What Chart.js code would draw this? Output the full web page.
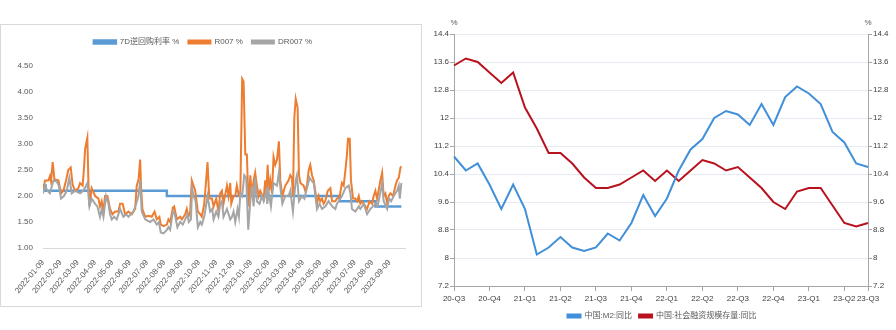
<!DOCTYPE html>
<html>
<head>
<meta charset="utf-8">
<script src="https://cdn.jsdelivr.net/npm/chart.js@4.4.0/dist/chart.umd.min.js"></script>
<style>
  body { margin: 0; background: #fff; width: 896px; height: 330px; position: relative; overflow: hidden; }
  #leftBox { position: absolute; left: 0; top: 24px; width: 422px; height: 283px; border: 1px solid #d9d9d9; box-sizing: border-box; }
  #leftChart { position: absolute; left: 0; top: 0; }
  #rightChart { position: absolute; left: 428px; top: 0; }
</style>
</head>
<body>
<div id="leftBox"><canvas id="leftChart" width="420" height="281"></canvas></div>
<canvas id="rightChart" width="468" height="330"></canvas>
<script>
// left chart: x is months after 2022-01-09
const leftTickLabels = ['2022-01-09','2022-02-09','2022-03-09','2022-04-09','2022-05-09','2022-06-09','2022-07-09',
  '2022-08-09','2022-09-09','2022-10-09','2022-11-09','2022-12-09','2023-01-09','2023-02-09','2023-03-09',
  '2023-04-09','2023-05-09','2023-06-09','2023-07-09','2023-08-09','2023-09-09'];

const policyX = [0, 0.15, 7.15, 17.13, 19.2, 20.69];
const policyRate = [2.20, 2.10, 2.00, 1.90, 1.80, 1.80];

const r007X = [0,0.12,0.31,0.40,0.46,0.56,0.66,0.89,1.04,1.18,1.33,1.46,1.60,1.71,1.85,2.04,2.14,2.29,2.37,2.43,
  2.56,2.62,2.68,2.81,3.01,3.20,3.29,3.39,3.49,3.58,3.72,3.87,4.01,4.16,4.35,4.45,4.60,4.74,4.93,5.13,
  5.22,5.32,5.41,5.51,5.61,5.66,5.74,5.90,6.09,6.28,6.44,6.57,6.72,6.80,6.96,7.15,7.24,7.34,7.50,7.57,
  7.73,7.92,8.02,8.21,8.30,8.40,8.50,8.59,8.69,8.79,8.94,9.08,9.17,9.31,9.50,9.60,9.75,9.85,10.00,10.13,
  10.23,10.33,10.42,10.62,10.71,10.81,10.87,11.00,11.10,11.19,11.31,11.39,11.50,11.58,11.68,11.77,11.87,11.97,12.06,12.16,
  12.25,12.35,12.45,12.54,12.74,12.83,12.89,12.97,13.04,13.12,13.22,13.31,13.41,13.51,13.62,13.70,13.82,13.99,14.18,14.28,
  14.37,14.43,14.51,14.59,14.70,14.78,14.86,15.05,15.14,15.24,15.34,15.43,15.53,15.63,15.72,15.82,15.92,16.01,16.11,16.20,
  16.30,16.44,16.59,16.69,16.88,16.97,17.13,17.26,17.36,17.46,17.55,17.61,17.71,17.78,17.90,18.03,18.13,18.23,18.32,18.42,
  18.52,18.71,18.86,19.00,19.09,19.19,19.29,19.48,19.58,19.67,19.77,19.87,19.96,20.06,20.21,20.35,20.44,20.54,20.64,20.69];
const r007 = [2.10,2.30,2.30,2.38,2.28,2.65,2.32,2.30,2.05,2.10,2.30,2.50,2.55,2.22,2.10,2.15,2.25,2.20,2.55,2.90,
  3.12,2.30,1.80,2.15,2.00,1.95,1.80,1.90,1.70,2.00,2.00,1.75,1.65,1.70,1.70,1.85,1.85,1.65,1.70,1.65,
  1.70,1.75,2.20,2.30,2.70,2.20,1.75,1.60,1.62,1.60,1.70,1.55,1.60,1.45,1.42,1.45,1.55,1.50,1.78,1.80,
  1.55,1.60,1.55,1.65,1.75,1.60,1.70,2.30,2.20,2.10,1.70,1.65,1.60,1.85,2.65,1.95,1.95,1.80,1.95,1.70,
  2.05,2.10,1.85,2.20,2.00,2.25,1.85,2.00,2.00,2.20,2.00,2.00,4.25,4.20,2.80,2.80,1.80,2.40,2.00,2.30,
  2.45,2.20,2.00,2.10,1.95,2.30,2.00,2.60,2.10,2.30,2.05,2.75,2.60,2.70,3.05,2.30,2.00,2.20,2.30,2.40,
  2.35,2.00,3.50,3.87,3.70,2.40,2.25,2.20,2.10,2.20,2.50,2.60,2.40,2.30,2.10,1.85,2.00,1.90,1.95,1.85,
  1.90,2.10,2.15,1.90,1.90,1.95,2.00,2.25,2.20,2.50,2.80,3.10,3.10,2.30,1.95,1.95,1.90,2.00,1.85,1.90,
  1.85,1.75,1.90,1.85,2.00,2.10,1.95,2.30,2.45,2.00,2.05,1.85,2.00,2.05,2.00,2.20,2.30,2.35,2.55,2.57];

const dr007X = [0,0.12,0.25,0.40,0.60,0.79,0.91,1.04,1.21,1.37,1.52,1.66,1.85,2.14,2.33,2.49,2.56,2.68,2.81,3.01,
  3.14,3.29,3.39,3.49,3.64,3.78,3.87,3.97,4.10,4.26,4.45,4.64,4.80,4.93,5.22,5.38,5.51,5.61,5.70,5.90,
  6.18,6.38,6.57,6.69,6.80,6.96,7.15,7.24,7.34,7.50,7.61,7.76,7.92,8.07,8.21,8.34,8.42,8.54,8.61,8.69,
  8.81,8.94,9.08,9.17,9.31,9.50,9.65,9.77,9.85,10.00,10.13,10.23,10.33,10.42,10.62,10.81,10.91,11.00,11.10,11.23,
  11.31,11.39,11.50,11.62,11.73,11.85,11.97,12.06,12.16,12.25,12.35,12.50,12.64,12.74,12.89,12.95,13.02,13.16,13.31,13.51,
  13.62,13.74,13.82,13.99,14.18,14.28,14.43,14.59,14.66,14.78,14.95,15.09,15.24,15.39,15.49,15.63,15.82,15.97,16.11,16.30,
  16.49,16.69,16.88,16.97,17.26,17.46,17.65,17.75,17.84,18.03,18.23,18.32,18.52,18.71,18.90,19.05,19.19,19.32,19.58,19.67,
  19.87,19.98,20.10,20.25,20.44,20.54,20.60,20.69];
const dr007 = [2.05,2.20,2.10,2.05,2.30,2.28,2.20,1.95,2.00,2.10,2.35,2.05,2.10,2.05,2.10,2.20,2.25,1.80,1.95,1.85,
  1.80,1.60,1.75,1.60,2.00,1.85,1.65,1.55,1.60,1.55,1.75,1.60,1.65,1.60,1.70,1.85,2.00,2.30,1.70,1.55,
  1.50,1.55,1.45,1.50,1.30,1.28,1.35,1.40,1.35,1.70,1.65,1.40,1.50,1.45,1.55,1.65,1.50,1.55,2.15,2.00,
  1.90,1.40,1.50,1.45,1.60,2.00,1.70,1.75,1.55,1.70,1.60,1.85,1.90,1.60,1.75,1.55,1.60,1.70,1.50,1.75,
  1.60,2.05,2.00,2.40,2.35,1.35,1.90,2.20,1.80,2.35,1.90,1.85,2.00,1.90,2.10,1.85,2.10,1.80,2.25,2.20,
  2.45,2.05,1.85,2.00,2.00,2.10,1.70,2.30,2.40,1.90,2.00,1.95,2.15,2.35,2.30,2.25,1.75,1.85,1.75,1.80,
  1.90,1.80,1.75,1.85,2.00,2.15,2.20,2.05,1.75,1.70,1.80,1.75,1.85,1.65,1.75,1.80,1.85,1.80,2.25,1.90,
  1.75,1.95,1.90,2.00,2.10,2.20,1.95,2.25];

// right chart: monthly
const months = ['2020-09','2020-10','2020-11','2020-12','2021-01','2021-02','2021-03','2021-04','2021-05','2021-06',
  '2021-07','2021-08','2021-09','2021-10','2021-11','2021-12','2022-01','2022-02','2022-03','2022-04','2022-05',
  '2022-06','2022-07','2022-08','2022-09','2022-10','2022-11','2022-12','2023-01','2023-02','2023-03','2023-04',
  '2023-05','2023-06','2023-07','2023-08'];
const m2 = [10.9,10.5,10.7,10.1,9.4,10.1,9.4,8.1,8.3,8.6,8.3,8.2,8.3,8.7,8.5,9.0,9.8,9.2,9.7,10.5,11.1,
  11.4,12.0,12.2,12.1,11.8,12.4,11.8,12.6,12.9,12.7,12.4,11.6,11.3,10.7,10.6];
const tsf = [13.5,13.7,13.6,13.3,13.0,13.3,12.3,11.7,11.0,11.0,10.7,10.3,10.0,10.0,10.1,10.3,10.5,10.2,10.5,10.2,10.5,
  10.8,10.7,10.5,10.6,10.3,10.0,9.6,9.4,9.9,10.0,10.0,9.5,9.0,8.9,9.0];

const FONT = '"Liberation Sans", "Noto Sans CJK SC", sans-serif';
Chart.defaults.font.family = FONT;
Chart.defaults.font.size = 8;
Chart.defaults.color = '#595959';
Chart.defaults.animation = false;

function pts(xs, ys) {
  return xs.map((x, i) => ({ x: x, y: ys[i] }));
}

function qLabel(i) {
  const m = months[i];
  if (!m) return '';
  const yy = m.slice(2, 4);
  const mo = Number(m.slice(5, 7));
  if (i === months.length - 1) return yy + '-Q' + Math.ceil(mo / 3);
  return mo % 3 === 0 ? yy + '-Q' + (mo / 3) : '';
}

const fmtRight = v => String(Number(v.toFixed(1)));

// gives the legend some extra room below it
const legendGap = {
  id: 'legendGap',
  beforeInit(chart) {
    const fit = chart.legend.fit;
    chart.legend.fit = function() {
      fit.bind(chart.legend)();
      this.height += 10;
    };
  }
};

new Chart(document.getElementById('leftChart'), {
  type: 'line',
  data: {
    datasets: [
      { label: '7D逆回购利率 %', data: pts(policyX, policyRate), borderColor: '#5b9bd5', backgroundColor: '#5b9bd5',
        borderWidth: 2.5, stepped: 'before', pointRadius: 0, order: 3 },
      { label: 'R007 %', data: pts(r007X, r007), borderColor: '#ed7d31', backgroundColor: '#ed7d31',
        borderWidth: 2, pointRadius: 0, order: 2 },
      { label: 'DR007 %', data: pts(dr007X, dr007), borderColor: '#a5a5a5', backgroundColor: '#a5a5a5',
        borderWidth: 2, pointRadius: 0, order: 1 }
    ]
  },
  options: {
    responsive: false,
    devicePixelRatio: 1,
    layout: { padding: { left: 0, right: 16, top: 4, bottom: 0 } },
    plugins: {
      legend: {
        position: 'top',
        labels: { boxWidth: 22, boxHeight: 3, padding: 9, color: '#595959',
          sort: (a, b) => a.datasetIndex - b.datasetIndex }
      },
      tooltip: { enabled: false }
    },
    scales: {
      x: {
        type: 'linear', min: 0, max: 20.9,
        grid: { display: false },
        border: { display: true, color: '#d9d9d9' },
        ticks: { stepSize: 1, includeBounds: false, autoSkip: false, maxTicksLimit: 30,
          minRotation: 50, maxRotation: 50, padding: 2, color: '#595959',
          callback: v => leftTickLabels[v] ?? '' },
        afterFit: s => { s.height = 58; }
      },
      y: {
        min: 1, max: 4.5,
        grid: { display: false, drawTicks: false },
        border: { display: false },
        ticks: { stepSize: 0.5, padding: 10, color: '#595959', callback: v => v.toFixed(2) },
        afterFit: s => { s.width = 42; }
      }
    }
  },
  plugins: [legendGap]
});

const percentSign = {
  id: 'percentSign',
  afterDraw(chart) {
    const ctx = chart.ctx;
    ctx.save();
    ctx.font = '8px ' + FONT;
    ctx.fillStyle = '#595959';
    ctx.textAlign = 'center';
    ctx.fillText('%', chart.scales.y.right, 23);
    ctx.fillText('%', chart.scales.y1.left, 23);
    ctx.restore();
  }
};

new Chart(document.getElementById('rightChart'), {
  type: 'line',
  data: {
    labels: months,
    datasets: [
      { label: '中国:M2:同比', data: m2, borderColor: '#418fd8', backgroundColor: '#418fd8',
        borderWidth: 2, pointRadius: 0, yAxisID: 'y' },
      { label: '中国:社会融资规模存量:同比', data: tsf, borderColor: '#b8121e', backgroundColor: '#b8121e',
        borderWidth: 2, pointRadius: 0, yAxisID: 'y1' }
    ]
  },
  options: {
    responsive: false,
    devicePixelRatio: 1,
    layout: { padding: { left: 0, right: 0, top: 34, bottom: 0 } },
    plugins: {
      legend: {
        position: 'bottom',
        labels: { boxWidth: 13, boxHeight: 3, padding: 7, color: '#595959' }
      },
      tooltip: { enabled: false }
    },
    scales: {
      x: {
        offset: false,
        grid: { drawOnChartArea: false, tickLength: 5,
          tickColor: c => qLabel(c.index) ? '#a6a6a6' : 'rgba(0,0,0,0)' },
        border: { color: '#a6a6a6' },
        ticks: { autoSkip: false, maxRotation: 0, padding: 3, color: '#404040',
          callback: (v, i) => qLabel(i) },
        afterFit: s => { s.height = 19; }
      },
      y: {
        position: 'left', min: 7.2, max: 14.4,
        grid: { color: '#e6ebf3', tickLength: 4, tickColor: '#a6a6a6' },
        border: { color: '#a6a6a6' },
        ticks: { stepSize: 0.8, padding: 1, color: '#404040', callback: fmtRight },
        afterFit: s => { s.width = 26; }
      },
      y1: {
        position: 'right', min: 7.2, max: 14.4,
        grid: { drawOnChartArea: false, tickLength: 4, tickColor: '#a6a6a6' },
        border: { color: '#a6a6a6' },
        ticks: { stepSize: 0.8, padding: 1, color: '#404040', callback: fmtRight },
        afterFit: s => { s.width = 28; }
      }
    }
  },
  plugins: [percentSign]
});
</script>
</body>
</html>
